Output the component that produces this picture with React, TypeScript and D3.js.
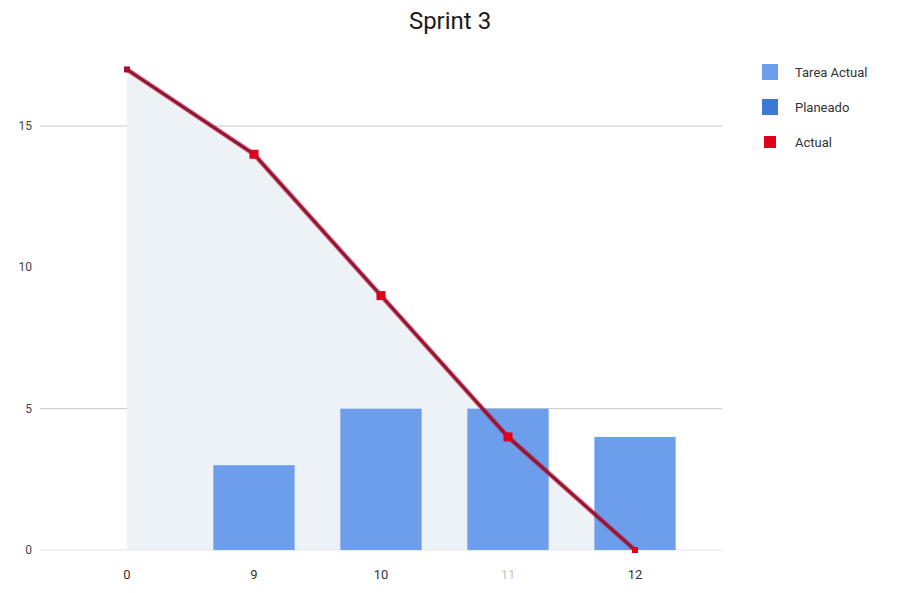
import React from "react";
import * as d3 from "d3";

const categories = ["0", "9", "10", "11", "12"];
const tareaActual = [0, 3, 5, 5, 4];
const planeado = [17, 14, 9, 4, 0];
const actual = [17, 14, 9, 4, 0];
const yTicks = [0, 5, 10, 15];
const gridTicks = [0, 5, 15];
const legendItems = ["Tarea Actual", "Planeado", "Actual"];

export default function App() {
  const W = 898, H = 593;
  const x = d3.scaleBand<string>().domain(categories).range([63.5, 698.5]).padding(0);
  const cx = (c: string) => (x(c) as number) + x.bandwidth() / 2;
  const y = d3.scaleLinear().domain([0, 15]).range([550, 126]);
  const barW = x.bandwidth() * 0.64;
  const idx = categories.map((_, i) => i);
  const area = d3.area<number>().x(i => cx(categories[i])).y0(y(0)).y1(i => y(planeado[i]));
  const line = d3.line<number>().x(i => cx(categories[i])).y(i => y(actual[i]));
  const legendColors = ["#6d9eeb", "#3c78d8", "#e0001b"];
  const font = "Roboto, Arial, sans-serif";
  const last = categories.length - 1;
  return (
    <svg width={W} height={H} style={{ position: "absolute", left: 0, top: 0 }} fontFamily={font}>
      <rect width={W} height={H} fill="#fff" />
      <text x={450} y={29} textAnchor="middle" fontSize={24} fill="#1a1a1a">Sprint 3</text>
      {gridTicks.map(t => (
        <line key={t} x1={40} x2={722} y1={y(t)} y2={y(t)} stroke={t === 0 ? "#e3e3e3" : "#c8c8c8"} strokeWidth={1} />
      ))}
      {yTicks.map(t => (
        <text key={t} x={32} y={y(t) + 4} textAnchor="end" fontSize={12} fill="#444">{t}</text>
      ))}
      <path d={area(idx) as string} fill="#edf2f7" />
      {categories.map((c, i) => tareaActual[i] > 0 ? (
        <rect key={c} x={cx(c) - barW / 2} y={y(tareaActual[i])} width={barW} height={y(0) - y(tareaActual[i])} fill="#6d9eeb" />
      ) : null)}
      <path d={line(idx) as string} fill="none" stroke="#e0001b" strokeWidth={5} strokeOpacity={0.5} />
      <path d={line(idx) as string} fill="none" stroke="#8e1838" strokeWidth={3} />
      {categories.map((c, i) => (
        <rect key={c} x={cx(c) - (i === 0 || i === last ? 3 : 4.5)} y={y(actual[i]) - (i === 0 || i === last ? 3 : 4.5)}
          width={i === 0 || i === last ? 6 : 9} height={i === 0 || i === last ? 6 : 9}
          fill={i === 0 ? "#a0122f" : "#e0001b"} />
      ))}
      {categories.map((c, i) => (
        <text key={c} x={cx(c)} y={579} textAnchor="middle" fontSize={13} fill={c === "11" ? "#c4c4c4" : "#333"}>{c}</text>
      ))}
      {legendItems.map((l, i) => (
        <g key={l} transform={`translate(762, ${64 + i * 35})`}>
          {i < 2 ? (
            <rect x={0} y={0} width={16} height={16} fill={legendColors[i]} />
          ) : (
            <rect x={2} y={2} width={12} height={12} fill={legendColors[i]} />
          )}
          <text x={33} y={13} fontSize={13} fill="#333">{l}</text>
        </g>
      ))}
    </svg>
  );
}
